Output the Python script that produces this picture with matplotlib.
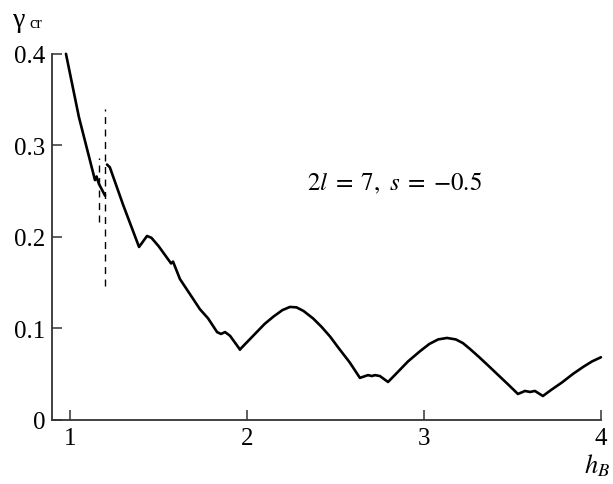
import matplotlib
matplotlib.use("Agg")
import matplotlib.pyplot as plt

plt.rcParams['font.family'] = ['Liberation Serif', 'DejaVu Serif']
plt.rcParams['mathtext.fontset'] = 'stix'

# curve, three pieces (gap at h_B ~ 1.2)
hb_a = [0.977, 1.05, 1.141, 1.150, 1.163, 1.198]
g_a = [0.400, 0.331, 0.262, 0.266, 0.258, 0.245]

hb_b = [1.209, 1.225, 1.30, 1.39, 1.435, 1.46, 1.50, 1.571, 1.582, 1.621,
        1.734, 1.780, 1.831, 1.853, 1.876, 1.904, 1.960]
g_b = [0.279, 0.276, 0.235, 0.189, 0.201, 0.199, 0.190, 0.171, 0.173, 0.154,
       0.121, 0.111, 0.096, 0.094, 0.096, 0.092, 0.077]

hb_c = [1.960, 2.00, 2.05, 2.10, 2.15, 2.20, 2.243, 2.28, 2.32, 2.373,
        2.42, 2.47, 2.52, 2.58, 2.638,
        2.684, 2.706, 2.723, 2.751, 2.797,
        2.85, 2.91, 2.977, 3.03, 3.08, 3.13, 3.18, 3.22, 3.26, 3.31,
        3.36, 3.42, 3.48, 3.531,
        3.571, 3.599, 3.627, 3.672,
        3.72, 3.78, 3.842, 3.90, 3.95, 4.0]
g_c = [0.077, 0.085, 0.095, 0.105, 0.113, 0.120, 0.1235, 0.123, 0.119, 0.111,
       0.102, 0.091, 0.078, 0.063, 0.046,
       0.049, 0.048, 0.049, 0.048, 0.0415,
       0.052, 0.064, 0.075, 0.083, 0.088, 0.0896, 0.088, 0.084, 0.0776, 0.069,
       0.060, 0.049, 0.038, 0.0284,
       0.0317, 0.0306, 0.0317, 0.0262,
       0.033, 0.041, 0.0503, 0.058, 0.064, 0.0685]

# dashed markers: (x, y_low, y_high)
dash_x = [1.162, 1.200]
dash_lo = [0.216, 0.146]
dash_hi = [0.286, 0.340]

fig = plt.figure(figsize=(6.13, 4.85), dpi=100)
ax = fig.add_axes([0.0848, 0.132, 0.8955, 0.755])

for xs, ys in [(hb_a, g_a), (hb_b, g_b), (hb_c, g_c)]:
    ax.plot(xs, ys, color='black', lw=1.9, clip_on=False,
            solid_joinstyle='round', solid_capstyle='round')

for x, lo, hi in zip(dash_x, dash_lo, dash_hi):
    ax.plot([x, x], [lo, hi], color='black', lw=1.0, dashes=(5, 4))

ax.set_xlim(0.898, 4.0)
ax.set_ylim(0, 0.4)
ax.set_xticks([1, 2, 3, 4])
ax.set_yticks([0, 0.1, 0.2, 0.3, 0.4])
ax.set_yticklabels(['0', '0.1', '0.2', '0.3', '0.4'])
ax.spines['top'].set_visible(False)
ax.spines['right'].set_visible(False)
for s in ['left', 'bottom']:
    ax.spines[s].set_linewidth(1.3)
    ax.spines[s].set_color('#333333')
ax.tick_params(direction='in', length=7, width=1.1, labelsize=18, pad=5, colors='#333333')
ax.tick_params(labelcolor='black')

fig.text(0.021, 0.958, 'γ', fontsize=20, ha='left', va='center')
fig.text(0.048, 0.950, 'cr', fontsize=12, ha='left', va='center')
fig.text(0.952, 0.040, r'$h_B$', fontsize=19, ha='left', va='center')
ax.text(2.34, 0.26, r'$2l\;=\;7,\ s\;=\;{-}0.5$', fontsize=18, ha='left', va='center')

fig.savefig('out.png', dpi=100)
